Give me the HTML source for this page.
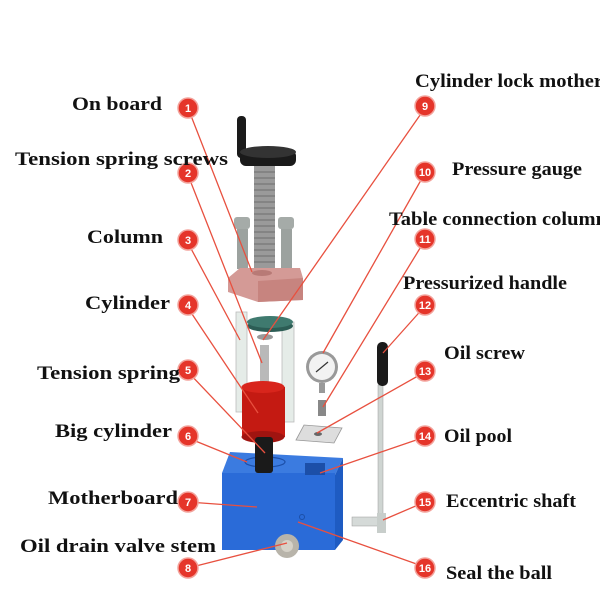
<!DOCTYPE html>
<html><head><meta charset="utf-8"><style>
html,body{margin:0;padding:0;background:#fff;width:600px;height:600px;overflow:hidden}
svg{display:block}
text{font-family:"Liberation Serif",serif;font-weight:bold;font-size:19px;fill:#111}
.n{font-family:"Liberation Sans",sans-serif;font-size:11px;fill:#fff;text-anchor:middle}
</style></head><body>
<svg width="600" height="600" viewBox="0 0 600 600">
<rect x="237" y="116" width="9" height="42" rx="4" fill="#1a1a1a"/>
<rect x="240" y="150" width="56" height="16" rx="6" fill="#1a1a1a"/>
<ellipse cx="268" cy="152" rx="28" ry="6" fill="#333"/>
<rect x="254" y="166" width="21" height="104" fill="#9a9a9a"/>
<g stroke="#777" stroke-width="1.2">
<line x1="254" y1="172" x2="275" y2="172"/><line x1="254" y1="178" x2="275" y2="178"/><line x1="254" y1="184" x2="275" y2="184"/><line x1="254" y1="190" x2="275" y2="190"/><line x1="254" y1="196" x2="275" y2="196"/><line x1="254" y1="202" x2="275" y2="202"/><line x1="254" y1="208" x2="275" y2="208"/><line x1="254" y1="214" x2="275" y2="214"/><line x1="254" y1="220" x2="275" y2="220"/><line x1="254" y1="226" x2="275" y2="226"/><line x1="254" y1="232" x2="275" y2="232"/><line x1="254" y1="238" x2="275" y2="238"/><line x1="254" y1="244" x2="275" y2="244"/><line x1="254" y1="250" x2="275" y2="250"/><line x1="254" y1="256" x2="275" y2="256"/><line x1="254" y1="262" x2="275" y2="262"/></g>
<rect x="234" y="217" width="16" height="12" rx="3" fill="#a5aba8"/>
<rect x="237" y="229" width="11" height="40" fill="#9ca29f"/>
<rect x="278" y="217" width="16" height="12" rx="3" fill="#a5aba8"/>
<rect x="281" y="229" width="11" height="40" fill="#9ca29f"/>
<polygon points="228,278 240,268 300,268 303,278 303,300 258,302 228,292" fill="#d49a96"/>
<polygon points="258,281 303,278 303,300 258,302" fill="#c7847f"/>
<ellipse cx="262" cy="273" rx="10" ry="3" fill="#b87a76"/>
<rect x="236" y="312" width="11" height="100" fill="#e5ece8" stroke="#bbb" stroke-width="0.8"/>
<rect x="282" y="322" width="12" height="100" fill="#e5ece8" stroke="#bbb" stroke-width="0.8"/>
<ellipse cx="270" cy="326" rx="23" ry="6" fill="#2c5d55"/>
<ellipse cx="270" cy="322" rx="23" ry="6" fill="#3f7a6f"/>
<ellipse cx="265" cy="337" rx="8" ry="3" fill="#999"/>
<rect x="260" y="345" width="9" height="42" fill="#b9b9b9"/>
<rect x="242" y="387" width="43" height="50" fill="#c41a12"/>
<ellipse cx="263" cy="437" rx="21.5" ry="6" fill="#a01410"/>
<ellipse cx="263" cy="387" rx="21.5" ry="6" fill="#d8251c"/>
<polygon points="222,473 230,452 343,458 335,475" fill="#3b7be0"/>
<polygon points="335,475 343,458 343,540 335,550" fill="#1e5bc2"/>
<rect x="222" y="473" width="113" height="77" fill="#2a6bd8"/>
<ellipse cx="265" cy="462" rx="20" ry="5" fill="none" stroke="#1c4fa8" stroke-width="1.2"/>
<rect x="305" y="463" width="20" height="12" fill="#1c4fa8"/>
<rect x="255" y="437" width="18" height="36" rx="3" fill="#1a1a1a"/>
<circle cx="322" cy="367" r="16" fill="#999"/>
<circle cx="322" cy="367" r="13" fill="#f2f2f2"/>
<line x1="316" y1="372" x2="328" y2="362" stroke="#333" stroke-width="1.2"/>
<rect x="319" y="383" width="6" height="10" fill="#999"/>
<rect x="318" y="400" width="8" height="16" fill="#888"/>
<polygon points="296,440 304,425 342,428 334,443" fill="#ddd" stroke="#999" stroke-width="0.8"/>
<ellipse cx="318" cy="434" rx="4" ry="2" fill="#666"/>
<rect x="378" y="385" width="5" height="133" fill="#cfd5d2" stroke="#999" stroke-width="0.5"/>
<rect x="377" y="342" width="11" height="44" rx="5" fill="#1a1a1a"/>
<rect x="352" y="517" width="32" height="9" fill="#d5dad8" stroke="#999" stroke-width="0.5"/>
<rect x="377" y="513" width="9" height="20" fill="#c8cecb"/>
<circle cx="287" cy="546" r="12" fill="#b8b4aa"/>
<circle cx="287" cy="546" r="6" fill="#d6d2c8"/>
<circle cx="302" cy="517" r="2.5" fill="none" stroke="#1c4fa8"/>
<g stroke="#e8503f" stroke-width="1.3">
<line x1="188" y1="108" x2="252" y2="272"/>
<line x1="188" y1="175" x2="262" y2="363"/>
<line x1="188" y1="243" x2="240" y2="340"/>
<line x1="188" y1="308" x2="258" y2="413"/>
<line x1="188" y1="372" x2="265" y2="453"/>
<line x1="188" y1="438" x2="247" y2="462"/>
<line x1="188" y1="502" x2="257" y2="507"/>
<line x1="188" y1="568" x2="287" y2="543"/>
<line x1="425" y1="108" x2="263" y2="340"/>
<line x1="425" y1="173" x2="323" y2="353"/>
<line x1="425" y1="240" x2="323" y2="407"/>
<line x1="425" y1="306" x2="383" y2="353"/>
<line x1="425" y1="372" x2="317" y2="433"/>
<line x1="425" y1="437" x2="320" y2="473"/>
<line x1="425" y1="502" x2="383" y2="520"/>
<line x1="425" y1="567" x2="298" y2="522"/>
</g>
<g fill="#e5352a" stroke="#f3a39c" stroke-width="1.5">
<circle cx="188" cy="108" r="10"/><circle cx="188" cy="173" r="10"/><circle cx="188" cy="240" r="10"/><circle cx="188" cy="305" r="10"/>
<circle cx="188" cy="370" r="10"/><circle cx="188" cy="436" r="10"/><circle cx="188" cy="502" r="10"/><circle cx="188" cy="568" r="10"/>
<circle cx="425" cy="106" r="10"/><circle cx="425" cy="172" r="10"/><circle cx="425" cy="239" r="10"/><circle cx="425" cy="305" r="10"/>
<circle cx="425" cy="371" r="10"/><circle cx="425" cy="436" r="10"/><circle cx="425" cy="502" r="10"/><circle cx="425" cy="568" r="10"/>
</g>
<text class="n" x="188" y="112">1</text><text class="n" x="188" y="177">2</text><text class="n" x="188" y="244">3</text><text class="n" x="188" y="309">4</text>
<text class="n" x="188" y="374">5</text><text class="n" x="188" y="440">6</text><text class="n" x="188" y="506">7</text><text class="n" x="188" y="572">8</text>
<text class="n" x="425" y="110">9</text><text class="n" x="425" y="176">10</text><text class="n" x="425" y="243">11</text><text class="n" x="425" y="309">12</text>
<text class="n" x="425" y="375">13</text><text class="n" x="425" y="440">14</text><text class="n" x="425" y="506">15</text><text class="n" x="425" y="572">16</text>
<g>
<text x="72" y="110" textLength="90" lengthAdjust="spacingAndGlyphs">On board</text>
<text x="15" y="165" textLength="213" lengthAdjust="spacingAndGlyphs">Tension spring screws</text>
<text x="87" y="243" textLength="76" lengthAdjust="spacingAndGlyphs">Column</text>
<text x="85" y="309" textLength="85" lengthAdjust="spacingAndGlyphs">Cylinder</text>
<text x="37" y="379" textLength="143" lengthAdjust="spacingAndGlyphs">Tension spring</text>
<text x="55" y="437" textLength="117" lengthAdjust="spacingAndGlyphs">Big cylinder</text>
<text x="48" y="504" textLength="130" lengthAdjust="spacingAndGlyphs">Motherboard</text>
<text x="20" y="552" textLength="196" lengthAdjust="spacingAndGlyphs">Oil drain valve stem</text>
<text x="415" y="87" textLength="188" lengthAdjust="spacingAndGlyphs">Cylinder lock mother</text>
<text x="452" y="175" textLength="130" lengthAdjust="spacingAndGlyphs">Pressure gauge</text>
<text x="389" y="225" textLength="218" lengthAdjust="spacingAndGlyphs">Table connection column</text>
<text x="403" y="289" textLength="164" lengthAdjust="spacingAndGlyphs">Pressurized handle</text>
<text x="444" y="359" textLength="81" lengthAdjust="spacingAndGlyphs">Oil screw</text>
<text x="444" y="442" textLength="68" lengthAdjust="spacingAndGlyphs">Oil pool</text>
<text x="446" y="507" textLength="130" lengthAdjust="spacingAndGlyphs">Eccentric shaft</text>
<text x="446" y="579" textLength="106" lengthAdjust="spacingAndGlyphs">Seal the ball</text>
</g>
</svg>
</body></html>
